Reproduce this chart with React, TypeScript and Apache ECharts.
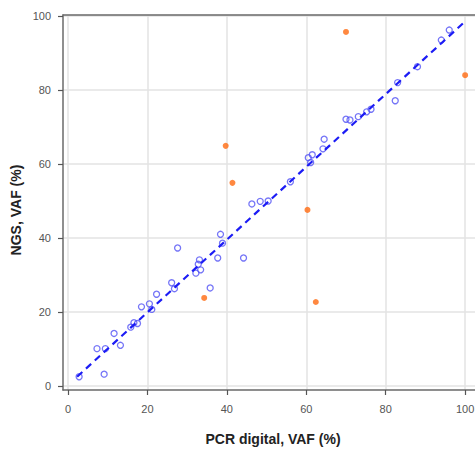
import React, { useEffect, useRef } from "react";
import * as echarts from "echarts";

// Concordant samples (blue open circles): PCR digital VAF vs NGS VAF
const blueX = [2.8, 9.1, 7.3, 9.4, 11.6, 13.2, 15.8, 16.6, 17.5, 18.5, 20.5, 21.1, 22.3, 26.1, 26.8, 27.6, 32.2, 32.8, 33.1, 33.4, 35.8, 37.7, 38.4, 38.9, 44.2, 46.3, 48.4, 50.4, 56.0, 60.5, 61.5, 61.1, 64.2, 64.5, 70.0, 71.0, 73.1, 75.2, 76.3, 82.4, 83.0, 88.0, 94.0, 96.0];
const blueY = [2.5, 3.2, 10.1, 10.1, 14.2, 11.0, 15.9, 17.1, 16.9, 21.4, 22.2, 20.7, 24.8, 27.9, 26.3, 37.3, 30.5, 32.9, 34.1, 31.4, 26.5, 34.6, 41.0, 38.6, 34.6, 49.2, 49.9, 50.0, 55.2, 61.7, 62.5, 60.4, 64.1, 66.7, 72.1, 71.9, 72.8, 74.1, 74.8, 77.1, 82.0, 86.3, 93.5, 96.2];

// Discordant samples (orange filled circles)
const orangeX = [70.0, 100.0, 39.7, 41.4, 60.3, 62.4, 34.3];
const orangeY = [95.7, 84.0, 64.9, 54.9, 47.6, 22.7, 23.8];

// Regression line
const fitSlope = 0.983;
const fitIntercept = 0.24;
const fitRange = [2.3, 100];

const tickValues = [0, 20, 40, 60, 80, 100];

export default function App() {
  const ref = useRef<HTMLDivElement>(null);
  useEffect(() => {
    document.body.style.margin = "0";
    const chart = echarts.init(ref.current!, null, { renderer: "svg" });
    const blueData = blueX.map((x, i) => [x, blueY[i]]);
    const orangeData = orangeX.map((x, i) => [x, orangeY[i]]);
    const fitData = fitRange.map((x) => [x, fitSlope * x + fitIntercept]);
    const labelStyle = {
      color: "#555",
      fontSize: 11,
      fontFamily: "Liberation Sans, Arial, sans-serif",
    };
    chart.setOption({
      animation: false,
      backgroundColor: "#fff",
      grid: { left: 63, top: 15, width: 420, height: 375, containLabel: false, outerBoundsMode: "none" },
      xAxis: [
        {
          type: "value",
          min: -1.26,
          max: 104.5,
          name: "PCR digital, VAF (%)",
          nameLocation: "middle",
          nameGap: 42,
          nameTextStyle: {
            color: "#222",
            fontSize: 14,
            fontWeight: "bold",
            fontFamily: "Liberation Sans, Arial, sans-serif",
          },
          axisLine: { show: true, onZero: false, lineStyle: { color: "#6a6a6a", width: 1.5 } },
          axisTick: { show: true, inside: false, length: 5, customValues: tickValues, lineStyle: { color: "#555", width: 1.2 } },
          axisLabel: { ...labelStyle, margin: 13, customValues: tickValues },
          splitLine: { show: true, lineStyle: { color: "#e3e3e3", width: 1.5 } },
        },
        {
          type: "value",
          position: "top",
          min: -1.26,
          max: 104.5,
          axisLine: { show: true, onZero: false, lineStyle: { color: "#6a6a6a", width: 1.5 } },
          axisTick: { show: false },
          axisLabel: { show: false },
          splitLine: { show: false },
        },
      ],
      yAxis: {
        type: "value",
        min: -1.08,
        max: 100.27,
        axisLine: { show: true, onZero: false, lineStyle: { color: "#6a6a6a", width: 1.5 } },
        axisTick: { show: true, inside: false, length: 5, customValues: tickValues, lineStyle: { color: "#555", width: 1.2 } },
        axisLabel: { ...labelStyle, margin: 12, customValues: tickValues },
        splitLine: { show: true, lineStyle: { color: "#e3e3e3", width: 1.5 } },
      },
      graphic: [
        {
          type: "text",
          x: 16,
          y: 210,
          rotation: Math.PI / 2,
          style: {
            text: "NGS, VAF (%)",
            fill: "#222",
            font: "bold 14px 'Liberation Sans', Arial, sans-serif",
            align: "center",
            verticalAlign: "middle",
          },
        },
      ],
      series: [
        {
          type: "scatter",
          xAxisIndex: 0,
          data: blueData,
          symbol: "circle",
          symbolSize: 6,
          itemStyle: { color: "rgba(0,0,0,0)", borderColor: "#5252f5", borderWidth: 1.3 },
          z: 2,
        },
        {
          type: "scatter",
          xAxisIndex: 0,
          data: orangeData,
          symbol: "circle",
          symbolSize: 6,
          itemStyle: { color: "#ff6a10" },
          z: 3,
        },
        {
          type: "line",
          xAxisIndex: 0,
          data: fitData,
          symbol: "none",
          lineStyle: { color: "#1c1cf5", width: 2.2, type: [7, 5] },
          z: 4,
        },
      ],
    });
    return () => chart.dispose();
  }, []);
  return <div ref={ref} style={{ width: 475, height: 449 }} />;
}
